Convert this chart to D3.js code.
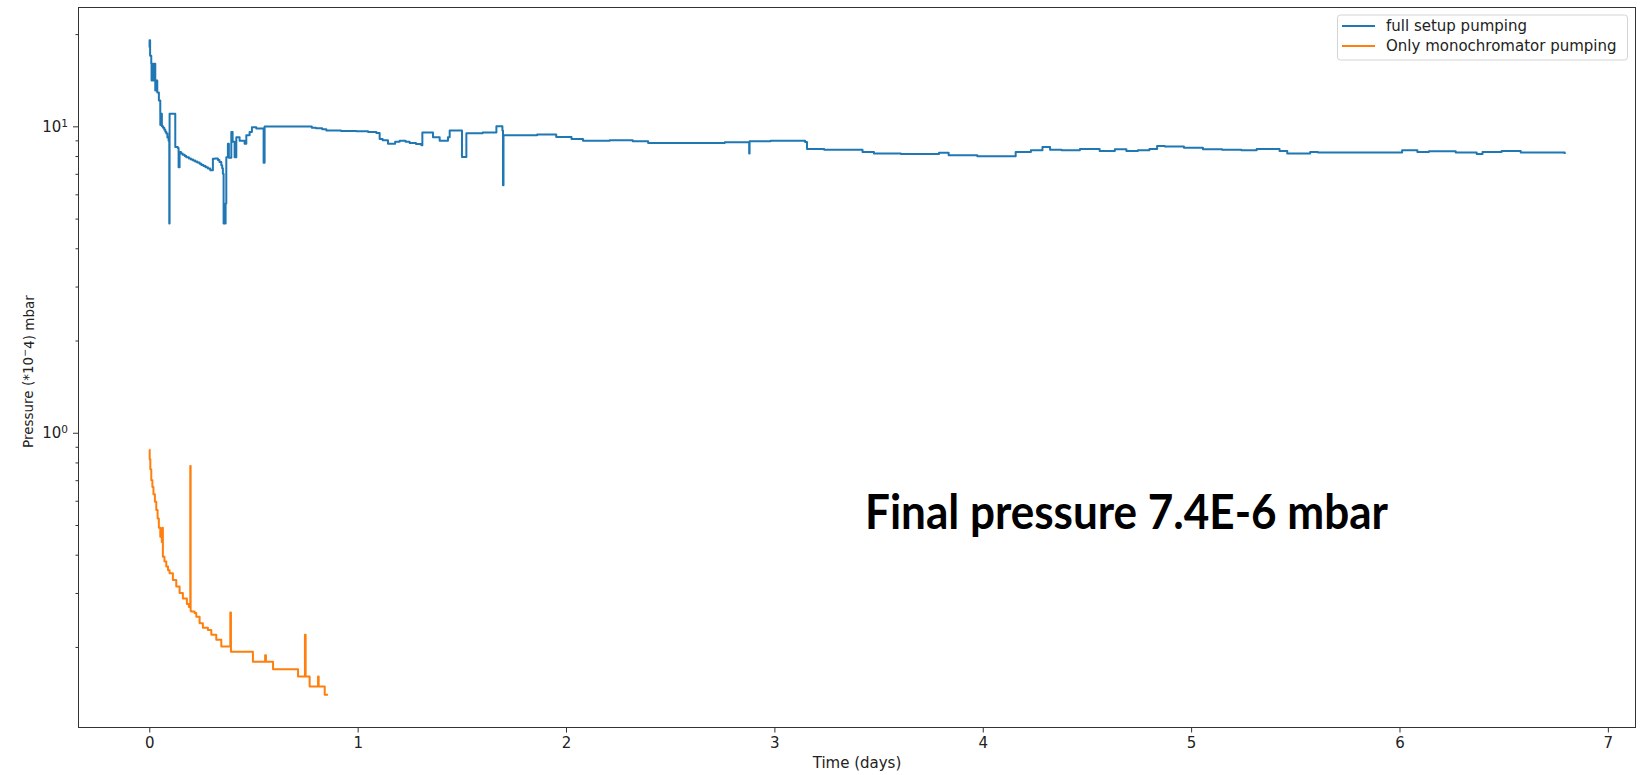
<!DOCTYPE html>
<html>
<head>
<meta charset="utf-8">
<script src="https://cdn.jsdelivr.net/npm/d3@7"></script>
<style>
  body { margin: 0; background: #fff; }
  text { font-family: "DejaVu Sans", sans-serif; fill: #222; }
</style>
</head>
<body>
<div id="chart"></div>
<script>
var fullSetup = [
  [0, 18.1], [0.0014, 19.1], [0.004, 17.0], [0.0096, 16.0], [0.011, 14.1],
  [0.0173, 16.0], [0.0206, 14.1], [0.0254, 16.0], [0.0288, 13.1], [0.0336, 14.1],
  [0.0384, 12.9], [0.0461, 12.15], [0.0528, 11.0], [0.053, 10.1], [0.058, 11.0],
  [0.0605, 10.0], [0.066, 9.9], [0.072, 9.75], [0.077, 9.6], [0.0816, 9.48],
  [0.087, 9.2], [0.0927, 8.98], [0.096, 4.82], [0.0975, 11.0],
  [0.1215, 11.0], [0.1248, 8.56], [0.137, 8.5], [0.1407, 7.36], [0.1455, 8.25],
  [0.152, 8.15], [0.16, 8.08], [0.17, 8.0], [0.1776, 7.93], [0.19, 7.85],
  [0.2, 7.8], [0.21, 7.74], [0.22, 7.68], [0.23, 7.62], [0.2415, 7.55],
  [0.25, 7.48], [0.26, 7.42], [0.27, 7.35], [0.2813, 7.28], [0.2928, 7.19],
  [0.3053, 7.84], [0.315, 7.85], [0.3293, 7.76], [0.337, 7.65], [0.3457, 7.47],
  [0.35, 7.3], [0.3533, 7.0], [0.3567, 4.82], [0.3663, 5.6],
  [0.3697, 7.93], [0.3773, 8.78], [0.382, 7.9], [0.3937, 9.59], [0.4, 8.9],
  [0.4095, 7.93], [0.4177, 9.22], [0.4335, 8.98], [0.4575, 8.78], [0.4657, 9.35],
  [0.4815, 9.59], [0.4926, 9.94], [0.5137, 9.83], [0.5454, 9.83], [0.5487, 7.6],
  [0.5535, 9.99], [0.7696, 9.99], [0.78, 9.9], [0.8, 9.85], [0.83, 9.78],
  [0.8497, 9.7], [0.92, 9.66], [0.9938, 9.63], [1.05, 9.58], [1.0898, 9.52],
  [1.1056, 9.1], [1.12, 9.0], [1.1455, 8.78], [1.18, 8.9], [1.2016, 8.98],
  [1.23, 8.9], [1.2496, 8.83], [1.28, 8.75], [1.3058, 8.67],
  [1.3106, 9.54], [1.3615, 9.22], [1.3937, 8.98], [1.4335, 9.22], [1.4417, 9.7],
  [1.5, 9.7], [1.5007, 7.94], [1.5218, 9.5], [1.6, 9.55], [1.6659, 10.0],
  [1.6947, 9.7], [1.6975, 6.42], [1.7, 9.35], [1.8613, 9.4], [1.953, 9.23],
  [2.0264, 9.1], [2.0816, 8.98], [2.2098, 9.0], [2.3202, 8.94], [2.3941, 8.83],
  [2.5963, 8.83], [2.7619, 8.87], [2.8771, 8.87], [2.879, 8.16], [2.881, 8.94],
  [2.9817, 8.98], [3.1474, 8.89], [3.1565, 8.44], [3.239, 8.39], [3.3495, 8.39],
  [3.423, 8.25], [3.478, 8.16], [3.6068, 8.12], [3.7172, 8.12], [3.7902, 8.2],
  [3.8363, 8.05], [3.974, 7.99], [4.0845, 7.99], [4.158, 8.25], [4.231, 8.36],
  [4.2866, 8.56], [4.3231, 8.39], [4.3783, 8.36], [4.4662, 8.44], [4.561, 8.31],
  [4.634, 8.42], [4.6894, 8.31], [4.7446, 8.36], [4.7998, 8.44], [4.8368, 8.62],
  [4.8733, 8.6], [4.9655, 8.52], [5.0567, 8.42], [5.1488, 8.39], [5.241, 8.36],
  [5.3145, 8.44], [5.388, 8.44], [5.4244, 8.31], [5.4614, 8.16], [5.4983, 8.16],
  [5.5713, 8.25], [5.6083, 8.21], [5.9755, 8.21], [6.0125, 8.36], [6.0859, 8.25],
  [6.1412, 8.3], [6.2698, 8.21], [6.3706, 8.12], [6.3985, 8.25], [6.4901, 8.31],
  [6.5818, 8.21], [6.7749, 8.21], [6.793, 8.12]
];

var monoOnly = [
  [0, 0.88], [0.002, 0.82], [0.005, 0.76], [0.0096, 0.70], [0.015, 0.665],
  [0.02, 0.63], [0.027, 0.595], [0.0336, 0.56], [0.04, 0.525], [0.046, 0.49],
  [0.0528, 0.458], [0.06, 0.44], [0.0624, 0.49], [0.0653, 0.394], [0.073, 0.38],
  [0.0816, 0.366], [0.09, 0.356], [0.0975, 0.348], [0.1133, 0.331],
  [0.1296, 0.315], [0.1455, 0.300], [0.1613, 0.288], [0.1805, 0.276], [0.1901, 0.270],
  [0.196, 0.270], [0.1968, 0.779], [0.1985, 0.262], [0.2016, 0.261], [0.2175, 0.258],
  [0.2256, 0.251], [0.2415, 0.239], [0.2573, 0.231], [0.2813, 0.227], [0.2977, 0.219],
  [0.3216, 0.211], [0.3457, 0.2006], [0.3855, 0.2006], [0.3889, 0.259], [0.392, 0.193],
  [0.4253, 0.193], [0.497, 0.191], [0.4974, 0.179], [0.5535, 0.179], [0.556, 0.188],
  [0.56, 0.179], [0.5934, 0.179], [0.594, 0.169], [0.7134, 0.169], [0.714, 0.160],
  [0.7456, 0.160], [0.747, 0.219], [0.7504, 0.160], [0.769, 0.160], [0.7696, 0.1485],
  [0.8094, 0.1485], [0.81, 0.160], [0.813, 0.1485], [0.8416, 0.1485], [0.842, 0.1396],
  [0.8574, 0.1396]
];

var seriesNames = ["full setup pumping", "Only monochromator pumping"];
var seriesColours = ["#1f77b4", "#ff7f0e"];
var xTicks = [0, 1, 2, 3, 4, 5, 6, 7];
var yMajorTicks = [1, 10];
var yMinorTicks = [0.2, 0.3, 0.4, 0.5, 0.6, 0.7, 0.8, 0.9, 2, 3, 4, 5, 6, 7, 8, 9, 20];
var xLabel = "Time (days)";
var noteText = "Final pressure 7.4E-6 mbar";

class PressureChart {
  constructor(container, series, margin, width, height) {
    this.container = container;
    this.series = series;
    this.margin = margin;
    this.width = width;
    this.height = height;
    this.draw();
  }

  draw() {
    var all = [];
    this.series.forEach(function(s) { all = all.concat(s.values); });

    // matplotlib style 5% padding around the data
    var tExt = d3.extent(all, d => d[0]);
    var tPad = (tExt[1] - tExt[0]) * 0.05;
    var lExt = d3.extent(all, d => Math.log10(d[1]));
    var lPad = (lExt[1] - lExt[0]) * 0.05;

    this.x = d3.scaleLinear().domain([tExt[0] - tPad, tExt[1] + tPad]).range([0, this.width]);
    this.y = d3.scaleLog()
      .domain([Math.pow(10, lExt[0] - lPad), Math.pow(10, lExt[1] + lPad)])
      .range([this.height, 0]);

    this.svg = d3.select(this.container).append("svg")
      .attr("width", this.width + this.margin.left + this.margin.right)
      .attr("height", this.height + this.margin.top + this.margin.bottom);

    this.plot = this.svg.append("g")
      .attr("transform", "translate(" + this.margin.left + "," + this.margin.top + ")");

    this.plotLines();
    this.createAxes();
    this.addLegend();
    this.addLabels();
  }

  plotLines() {
    var x = this.x, y = this.y;
    var line = d3.line().curve(d3.curveStepAfter).x(d => x(d[0])).y(d => y(d[1]));
    this.plot.selectAll("path.series")
      .data(this.series)
      .enter()
      .append("path")
        .attr("class", "series")
        .attr("d", d => line(d.values))
        .attr("fill", "none")
        .attr("stroke", d => d.colour)
        .attr("stroke-width", 2)
        .attr("stroke-linejoin", "round");
  }

  createAxes() {
    var xAxisCall = d3.axisBottom(this.x)
      .tickValues(xTicks)
      .tickSize(5)
      .tickPadding(5)
      .tickFormat(d3.format("d"));

    var yAxisCall = d3.axisLeft(this.y)
      .tickValues(yMajorTicks)
      .tickSize(5.5)
      .tickPadding(5)
      .tickFormat(d => "10");

    var yMinorCall = d3.axisLeft(this.y)
      .tickValues(yMinorTicks)
      .tickSize(3)
      .tickFormat("");

    this.xAxis = this.plot.append("g")
      .attr("transform", "translate(0," + this.height + ")")
      .call(xAxisCall);

    this.yAxis = this.plot.append("g").call(yAxisCall);
    this.yMinor = this.plot.append("g").call(yMinorCall);

    // exponent as superscript
    this.yAxis.selectAll(".tick text")
      .append("tspan")
        .attr("dy", "-0.45em")
        .attr("font-size", "10.5px")
        .text(d => Math.round(Math.log10(d)));

    [this.xAxis, this.yAxis, this.yMinor].forEach(function(g) {
      g.select(".domain").remove();
      g.selectAll(".tick line").attr("stroke", "#333");
      g.selectAll(".tick text")
        .attr("font-family", "DejaVu Sans, sans-serif")
        .attr("font-size", "15px")
        .attr("fill", "#222");
    });

    // frame
    this.plot.append("rect")
      .attr("width", this.width)
      .attr("height", this.height)
      .attr("fill", "none")
      .attr("stroke", "#333")
      .attr("stroke-width", 1);
  }

  addLegend() {
    var lg = this.plot.append("g")
      .attr("transform", "translate(" + (this.width - 298) + ",7.5)");

    lg.append("rect")
      .attr("width", 290)
      .attr("height", 45)
      .attr("rx", 3)
      .attr("fill", "#fff")
      .attr("fill-opacity", 0.8)
      .attr("stroke", "#d4d4d4");

    var items = lg.selectAll("g.item")
      .data(this.series)
      .enter()
      .append("g")
        .attr("class", "item")
        .attr("transform", (d, i) => "translate(0," + (11 + i * 20) + ")");

    items.append("line")
      .attr("x1", 4.5).attr("x2", 37.5)
      .attr("stroke", d => d.colour)
      .attr("stroke-width", 2);

    items.append("text")
      .attr("x", 48.5)
      .attr("dy", "0.36em")
      .attr("font-size", "15px")
      .text(d => d.name);
  }

  addLabels() {
    this.plot.append("text")
      .attr("x", this.width / 2)
      .attr("y", this.height + 40)
      .attr("text-anchor", "middle")
      .attr("font-size", "15px")
      .text(xLabel);

    var yl = this.svg.append("text")
      .attr("transform", "translate(32.5,448) rotate(-90)")
      .attr("font-size", "13.5px");
    yl.append("tspan").text("Pressure (*10");
    yl.append("tspan").attr("dy", "-0.45em").attr("font-size", "9.5px").text("\u2212");
    yl.append("tspan").attr("dy", "0.45em").text("4) mbar");

    this.svg.append("text")
      .attr("x", 1126.5)
      .attr("y", 528.5)
      .attr("text-anchor", "middle")
      .attr("textLength", 523)
      .attr("lengthAdjust", "spacingAndGlyphs")
      .style("font-family", "'Liberation Sans Narrow', Lato, 'Open Sans', sans-serif")
      .style("font-weight", "bold")
      .style("font-size", "47px")
      .style("fill", "#000")
      .text(noteText);
  }
}

var series = [
  { name: seriesNames[0], colour: seriesColours[0], values: fullSetup },
  { name: seriesNames[1], colour: seriesColours[1], values: monoOnly }
];

var chart = new PressureChart("#chart", series,
  { top: 7.5, right: 14.5, bottom: 47.5, left: 78.5 }, 1557, 720);
</script>
</body>
</html>
